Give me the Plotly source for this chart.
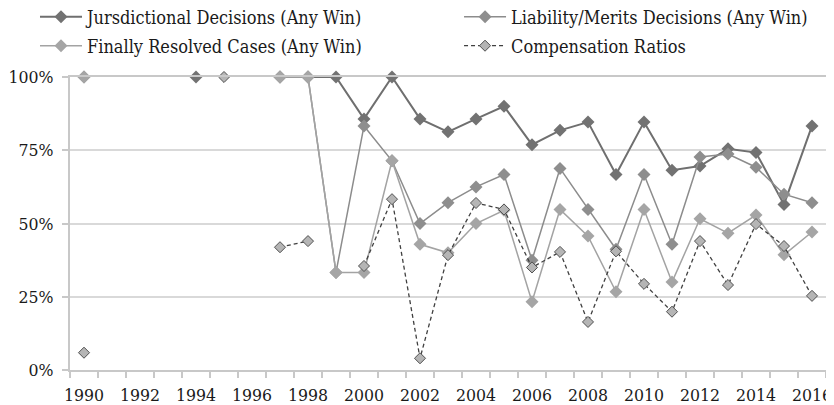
import plotly.graph_objects as go

years = list(range(1990, 2017))
tick_years = list(range(1990, 2017, 2))
boundaries = [y - 0.5 for y in range(1990, 2018)]

jurisdictional = [None, None, None, None, 100, None, None, 100, 100, 100,
                  85.7, 100, 85.7, 81.3, 85.7, 90.0, 76.9, 81.8, 84.6, 66.7,
                  84.6, 68.2, 69.6, 75.5, 74.2, 56.5, 83.3]
liability = [100, None, None, None, None, None, None, 100, 100, 33.3,
             83.3, 71.4, 50.0, 57.1, 62.5, 66.7, 37.5, 68.8, 54.8, 41.2,
             66.7, 42.9, 72.7, 73.7, 69.2, 60.0, 57.1]
finally_resolved = [100, None, None, None, None, None, None, 100, 100, 33.3,
                    33.3, 71.4, 42.9, 40.0, 50.0, 54.5, 23.3, 54.8, 45.7, 26.7,
                    54.8, 30.0, 51.6, 46.7, 52.9, 39.3, 47.1]
compensation = [5.9, None, None, None, None, 100, None, 41.9, 44.0, None,
                35.5, 58.3, 4.0, 39.2, 57.0, 54.8, 35.0, 40.3, 16.4, 40.5,
                29.4, 19.9, 44.0, 29.0, 49.8, 42.3, 25.3]

names = ["Jursdictional Decisions (Any Win)",
         "Liability/Merits Decisions (Any Win)",
         "Finally Resolved Cases (Any Win)",
         "Compensation Ratios"]

FONT = "DejaVu Serif Condensed, DejaVu Serif"
TXT = "#1a1a1a"

fig = go.Figure()
fig.add_trace(go.Scatter(
    x=years, y=jurisdictional, name=names[0], mode="lines+markers",
    line=dict(color="#6f6f6f", width=2),
    marker=dict(symbol="diamond", size=10, color="#727272"),
    cliponaxis=False, legend="legend"))
fig.add_trace(go.Scatter(
    x=years, y=liability, name=names[1], mode="lines+markers",
    line=dict(color="#8c8c8c", width=1.5),
    marker=dict(symbol="diamond", size=10, color="#8e8e8e"),
    cliponaxis=False, legend="legend2"))
fig.add_trace(go.Scatter(
    x=years, y=finally_resolved, name=names[2], mode="lines+markers",
    line=dict(color="#a3a3a3", width=1.5),
    marker=dict(symbol="diamond", size=10, color="#a5a5a5"),
    cliponaxis=False, legend="legend3"))
fig.add_trace(go.Scatter(
    x=years, y=compensation, name=names[3], mode="lines+markers",
    line=dict(color="#404040", width=1.3, dash="4px,3px"),
    marker=dict(symbol="diamond", size=8.5, color="#b5b5b5",
                line=dict(color="#505050", width=1)),
    cliponaxis=False, legend="legend4"))

legend_common = dict(orientation="h", xanchor="left", yanchor="middle",
                     font=dict(family=FONT, size=18, color=TXT),
                     itemwidth=42, tracegroupgap=0, bgcolor="rgba(0,0,0,0)")
COL1, COL2 = -0.0463, 0.5146
ROW1, ROW2 = 1.2048, 1.1058

fig.update_layout(
    width=826, height=397,
    margin=dict(l=62, r=8, t=69, b=35, autoexpand=False),
    paper_bgcolor="white", plot_bgcolor="white",
    font=dict(family=FONT, size=17.5, color=TXT),
    showlegend=True,
    legend=dict(legend_common, x=COL1, y=ROW1),
    legend2=dict(legend_common, x=COL2, y=ROW1),
    legend3=dict(legend_common, x=COL1, y=ROW2),
    legend4=dict(legend_common, x=COL2, y=ROW2),
    xaxis=dict(range=[1989.5, 2016.5], tickmode="array", tickvals=tick_years,
               ticktext=[str(y) for y in tick_years], ticks="",
               showgrid=False, zeroline=False,
               showline=True, linecolor="#c8c8c8", linewidth=2, mirror=True,
               ticklabelstandoff=8,
               minor=dict(tickmode="array", tickvals=boundaries, ticks="outside",
                          ticklen=6, tickcolor="#c8c8c8", tickwidth=1.5,
                          showgrid=False),
               tickfont=dict(family=FONT, size=17.5, color=TXT)),
    yaxis=dict(range=[0, 100], tickmode="array", tickvals=[0, 25, 50, 75, 100],
               ticktext=["0%", "25%", "50%", "75%", "100%"],
               ticks="outside", ticklen=6, tickcolor="#c8c8c8", tickwidth=1.5,
               showgrid=True, gridcolor="#d9d9d9", gridwidth=2,
               zeroline=False, showline=True, linecolor="#c8c8c8", linewidth=2,
               mirror=True, ticklabelstandoff=5,
               tickfont=dict(family=FONT, size=17.5, color=TXT)),
)

fig.write_html("out.html")
